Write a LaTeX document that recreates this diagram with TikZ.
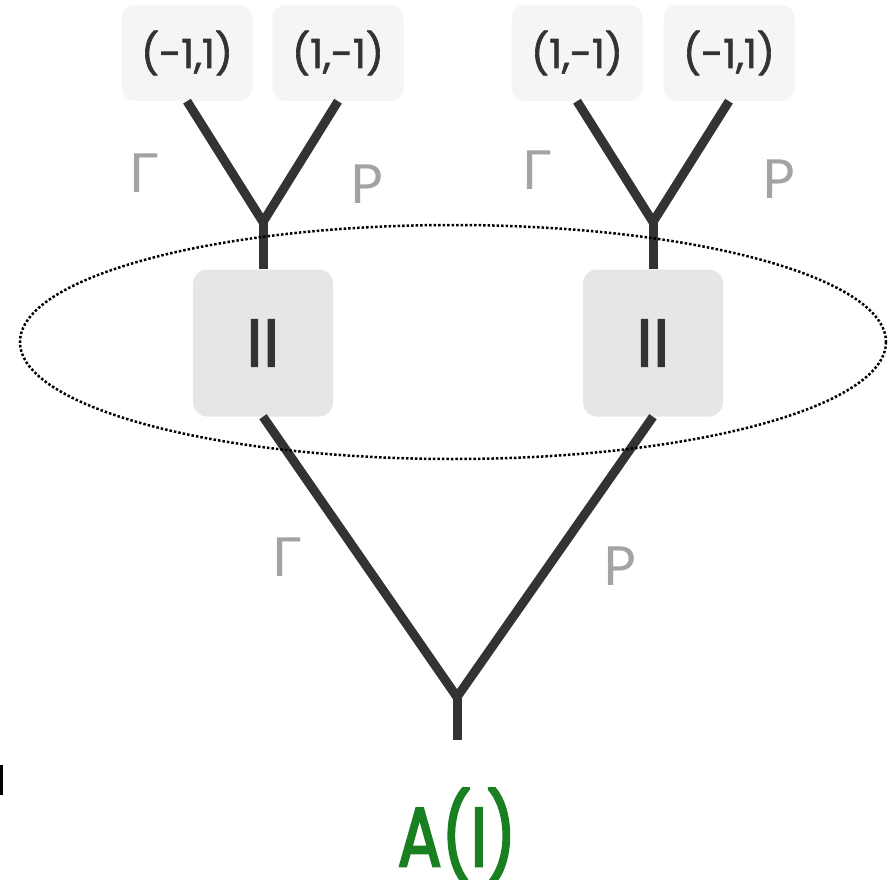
\documentclass[tikz,border=0pt]{standalone}
\usepackage{fontspec}
\setmainfont{Poppins}
\newfontfamily\medfont{Poppins}[FakeBold=1.6]
\newfontfamily\heavyfont{Poppins}[FakeBold=3.2]
\newfontfamily\cyrfont{Lato}
\usetikzlibrary{calc}
\definecolor{branch}{HTML}{333333}
\definecolor{leafbg}{HTML}{F5F5F5}
\definecolor{infobg}{HTML}{E6E6E6}
\definecolor{movegray}{HTML}{A5A2A2}
\definecolor{payoffgreen}{RGB}{24,128,32}

\begin{document}
\begin{tikzpicture}[x=1pt, y=-1pt,
  leaf/.style={fill=leafbg, rounded corners=13pt, minimum width=131pt, minimum height=96pt, inner sep=0pt, text=branch, font=\medfont\fontsize{40}{44}\selectfont},
  infoset/.style={fill=infobg, rounded corners=14pt, minimum width=140pt, minimum height=147pt, inner sep=0pt, text=branch, font=\medfont\fontsize{68}{74}\selectfont},
  move/.style={text=movegray, inner sep=0pt, font=\cyrfont\fontsize{54}{60}\selectfont},
  edge/.style={draw=branch, line width=9pt}]
\useasboundingbox (0, 0) rectangle (892, 880);

\node (l1) [leaf] at (187, 53) {(-1,1)};
\node (l2) [leaf] at (338, 53) {(1,-1)};
\node (l3) [leaf] at (577, 53) {(1,-1)};
\node (l4) [leaf] at (729, 53) {(-1,1)};

\node (n1) [infoset] at (263, 343) {II};
\node (n2) [infoset] at (653, 343) {II};

\coordinate (j1) at (263, 222);
\coordinate (j2) at (653, 222);
\coordinate (root) at (457, 697);
\coordinate (rootend) at (457, 740);

\draw [edge] (l1.south) -- (j1) -- (l2.south);
\draw [edge] (j1) -- (n1.north);
\draw [edge] (l3.south) -- (j2) -- (l4.south);
\draw [edge] (j2) -- (n2.north);
\draw [edge] (n1.south) -- (root) -- (n2.south);
\draw [edge] (root) -- (rootend);

\node (m11) [move] at (144, 173) {Г};
\node (m12) [move] at (367, 184) {Р};
\node (m21) [move] at (537, 170) {Г};
\node (m22) [move] at (779, 179) {Р};
\node (m1) [move] at (287, 557) {Г};
\node (m2) [move] at (620, 566) {Р};

\node (payoff) [anchor=base, inner sep=0pt, text=payoffgreen, font=\heavyfont\fontsize{83}{90}\selectfont] at (457, 866) {\scalebox{0.78}[1]{A(I)}};

\draw [line width=2.5pt, dash pattern=on 2.5pt off 2pt] (453, 342) ellipse [x radius=433, y radius=117];

\fill (0, 765) rectangle (3, 795);
\end{tikzpicture}
\end{document}
